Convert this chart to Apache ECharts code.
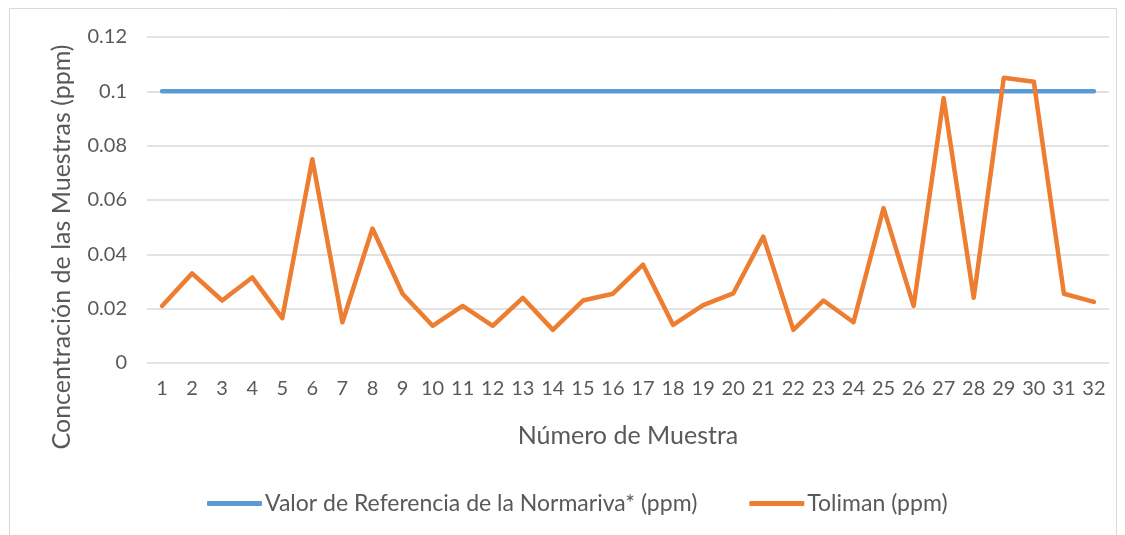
<!DOCTYPE html>
<html>
<head>
<meta charset="utf-8">
<script src="https://cdn.jsdelivr.net/npm/echarts@6/dist/echarts.min.js"></script>
<style>
  html, body { margin: 0; padding: 0; background: #fff; }
  #chart { width: 1125px; height: 535px; }
</style>
</head>
<body>
<div id="chart"></div>
<script>
// muestras 1..32
var muestras = ['1','2','3','4','5','6','7','8','9','10','11','12','13','14','15','16',
                '17','18','19','20','21','22','23','24','25','26','27','28','29','30','31','32'];
var referencia = [0.1,0.1,0.1,0.1,0.1,0.1,0.1,0.1,0.1,0.1,0.1,0.1,0.1,0.1,0.1,0.1,
                  0.1,0.1,0.1,0.1,0.1,0.1,0.1,0.1,0.1,0.1,0.1,0.1,0.1,0.1,0.1,0.1];
var toliman = [0.021,0.033,0.023,0.0315,0.0165,0.075,0.015,0.0495,0.0255,0.0137,0.021,0.0137,
               0.024,0.0122,0.023,0.0255,0.0362,0.014,0.0213,0.0256,0.0465,0.0122,0.023,0.015,
               0.057,0.021,0.0975,0.024,0.105,0.1035,0.0255,0.0225];
var yTicks = [0, 0.02, 0.04, 0.06, 0.08, 0.1, 0.12];

var FONT = 'Lato';
var TXT = '#595959';

var chart = echarts.init(document.getElementById('chart'));
var option = {
    animation: false,
    textStyle: {fontFamily: FONT, color: TXT},
    graphic: [{
        type: 'rect',
        shape: {x: 9.5, y: 8.5, width: 1107, height: 540},
        style: {fill: 'none', stroke: '#D9D9D9', lineWidth: 1},
        silent: true
    }, {
        // titulo del eje Y, centrado en todo el alto del grafico
        type: 'text',
        x: 62, y: 247,
        rotation: Math.PI / 2,
        style: {
            text: 'Concentración de las Muestras (ppm)',
            fontFamily: FONT, fontSize: 25, fill: TXT,
            align: 'center', verticalAlign: 'middle'
        },
        silent: true
    }],
    grid: {left: 147, right: 16, top: 37, bottom: 172, containLabel: false},
    legend: {
        bottom: 20,
        left: 207,
        padding: 0,
        itemWidth: 55,
        itemHeight: 5,
        itemGap: 52,
        textStyle: {fontFamily: FONT, fontSize: 23, color: TXT, padding: [0, 0, 0, -2]},
        data: [
            {name: 'Valor de Referencia de la Normariva* (ppm)', icon: 'roundRect'},
            {name: 'Toliman (ppm)', icon: 'roundRect'}
        ]
    },
    xAxis: {
        type: 'category',
        data: muestras,
        boundaryGap: true,
        name: 'Número de Muestra',
        nameLocation: 'middle',
        nameGap: 60,
        nameTextStyle: {fontFamily: FONT, fontSize: 25, color: TXT},
        axisLine: {show: false},
        axisTick: {show: false},
        axisLabel: {fontFamily: FONT, fontSize: 20, color: TXT, margin: 16, interval: 0}
    },
    yAxis: {
        type: 'value',
        min: yTicks[0],
        max: yTicks[yTicks.length - 1],
        interval: 0.02,
        axisLine: {show: false},
        axisTick: {show: false},
        axisLabel: {
            fontFamily: FONT, fontSize: 20, color: TXT, margin: 20,
            formatter: function (v) { return String(Math.round(v * 100) / 100); }
        },
        splitLine: {lineStyle: {color: '#D9D9D9', width: 1.5}}
    },
    series: [
        {
            name: 'Valor de Referencia de la Normariva* (ppm)',
            type: 'line',
            data: referencia,
            symbol: 'none',
            color: '#5B9BD5',
            lineStyle: {width: 4.5, color: '#5B9BD5', cap: 'round'}
        },
        {
            name: 'Toliman (ppm)',
            type: 'line',
            data: toliman,
            symbol: 'none',
            color: '#ED7D31',
            lineStyle: {width: 4.5, color: '#ED7D31', cap: 'round', join: 'round'}
        }
    ]
};
chart.setOption(option);
</script>
</body>
</html>
